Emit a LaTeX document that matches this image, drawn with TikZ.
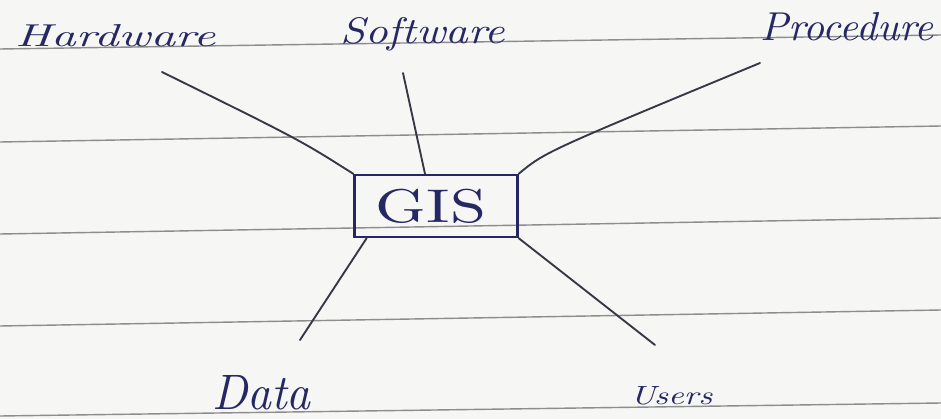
\documentclass[tikz,border=0pt]{standalone}
\usepackage{graphicx}
\definecolor{paper}{RGB}{246,246,244}
\definecolor{rule}{RGB}{140,142,140}
\definecolor{ink}{RGB}{38,40,100}
\definecolor{pencil}{RGB}{55,55,70}
\tikzset{
  ruled/.style={draw=rule, line width=1.2pt},
  wire/.style={draw=pencil, line width=1.6pt, line cap=round},
  label/.style={inner sep=0pt, anchor=base west, text=ink},
  gisbox/.style={draw=ink, line width=2pt, inner sep=0pt, minimum width=4.89cm, minimum height=1.86cm, text=ink}
}
\begin{document}
\begin{tikzpicture}[x=0.03cm, y=-0.03cm]
  \fill[paper] (0,0) rectangle (941,419);
  \useasboundingbox (0,0) rectangle (941,419);
  % ruled paper lines
  \draw[ruled] (0,49) -- (941,35);
  \draw[ruled] (0,142) -- (941,126);
  \draw[ruled] (0,234) -- (941,218);
  \draw[ruled] (0,326) -- (941,310);
  \draw[ruled] (0,416) -- (941,403);
  % labels
  \node[label] (hw) at (15,47) {\resizebox{6cm}{0.66cm}{\itshape Hardware}};
  \node[label] (sw) at (340,43) {\resizebox{4.95cm}{0.78cm}{\itshape Software}};
  \node[label] (pr) at (760,40) {\resizebox{5.2cm}{0.84cm}{\itshape Procedure}};
  \node[label] (da) at (212,409) {\resizebox{2.95cm}{1.02cm}{\itshape Data}};
  \node[label] (us) at (630,404) {\resizebox{2.46cm}{0.54cm}{\itshape Users}};
  % central box
  \node[gisbox] (gis) at (436,206) {\hspace*{-0.3cm}\resizebox{3.3cm}{1.0cm}{GIS}};
  % free ends of connectors
  \coordinate (hwend) at (162,72);
  \coordinate (swend) at (403,73);
  \coordinate (prend) at (760,63);
  \coordinate (daend) at (300,340);
  \coordinate (usend) at (655,345);
  % connectors
  \draw[wire] (hwend) .. controls (300,140) .. (gis.north west);
  \draw[wire] (swend) -- ([xshift=-0.33cm]gis.north);
  \draw[wire] (prend) .. controls (545,152) .. (gis.north east);
  \draw[wire] ([xshift=0.4cm]gis.south west) -- (daend);
  \draw[wire] (gis.south east) -- (usend);
\end{tikzpicture}
\end{document}
